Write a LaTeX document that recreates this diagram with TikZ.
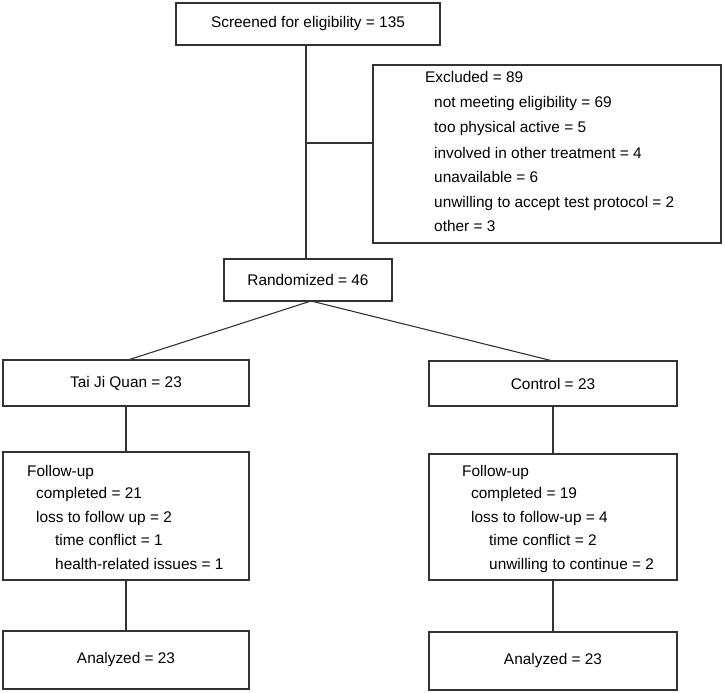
\documentclass[tikz,border=0pt]{standalone}
\usepackage{fontspec}
\setmainfont{Liberation Sans}
\newcommand\fsz{\fontsize{15.4bp}{18bp}\selectfont}
\begin{document}
\begin{tikzpicture}[x=1bp,y=-1bp,
  box/.style={draw=black!80,line width=1.1bp,rectangle,inner sep=0pt,font=\fsz},
  txt/.style={inner sep=0pt,anchor=base west,font=\fsz},
  link/.style={draw=black!80,line width=1.1bp}]
\useasboundingbox (0,0) rectangle (725,693);
% boxes
\node[box,minimum width=264bp,minimum height=42bp] (scr) at (308,24) {Screened for eligibility = 135};
\node[box,minimum width=348bp,minimum height=178bp] (exc) at (547,154) {};
\node[box,minimum width=168bp,minimum height=42bp] (rand) at (308,280) {Randomized = 46};
\node[box,minimum width=246bp,minimum height=46bp] (tjq) at (126,383) {Tai Ji Quan = 23};
\node[box,minimum width=248bp,minimum height=45bp] (ctl) at (553,383.5) {Control = 23};
\node[box,minimum width=246bp,minimum height=128bp] (fl) at (126,516) {};
\node[box,minimum width=248bp,minimum height=126bp] (fr) at (553,517) {};
\node[box,minimum width=246bp,minimum height=58bp] (al) at (126,660) {Analyzed = 23};
\node[box,minimum width=248bp,minimum height=58bp] (ar) at (553,661) {Analyzed = 23};
% excluded text
\node[txt] (e0) at (425,82.5) {Excluded = 89};
\node[txt] (e1) at (434,108) {not meeting eligibility = 69};
\node[txt] (e2) at (434,133) {too physical active = 5};
\node[txt] (e3) at (434,158) {involved in other treatment = 4};
\node[txt] (e4) at (434,182.5) {unavailable = 6};
\node[txt] (e5) at (434,207) {unwilling to accept test protocol = 2};
\node[txt] (e6) at (434,231.5) {other = 3};
% follow-up left
\node[txt] (l0) at (27,476.5) {Follow-up};
\node[txt] (l1) at (36,498.5) {completed = 21};
\node[txt] (l2) at (36,522.5) {loss to follow up = 2};
\node[txt] (l3) at (55,545.5) {time conflict = 1};
\node[txt] (l4) at (55,569.5) {health-related issues = 1};
% follow-up right
\node[txt] (r0) at (462,476.5) {Follow-up};
\node[txt] (r1) at (471,498.5) {completed = 19};
\node[txt] (r2) at (471,522.5) {loss to follow-up = 4};
\node[txt] (r3) at (489,545.5) {time conflict = 2};
\node[txt] (r4) at (489,569.5) {unwilling to continue = 2};
% connectors
\coordinate (top) at (306,45);
\coordinate (jn) at (306,143);
\coordinate (split) at (311,301);
\coordinate (tl) at (128,360);
\coordinate (tr) at (553,361);
\draw[link] (top) -- (top |- rand.north);
\draw[link] (jn) -- (jn -| exc.west);
\draw[link] (split) -- (tl);
\draw[link] (split) -- (tr);
\draw[link] (tjq.south) -- (fl.north);
\draw[link] (ctl.south) -- (fr.north);
\draw[link] (fl.south) -- (al.north);
\draw[link] (fr.south) -- (ar.north);
\end{tikzpicture}
\end{document}
